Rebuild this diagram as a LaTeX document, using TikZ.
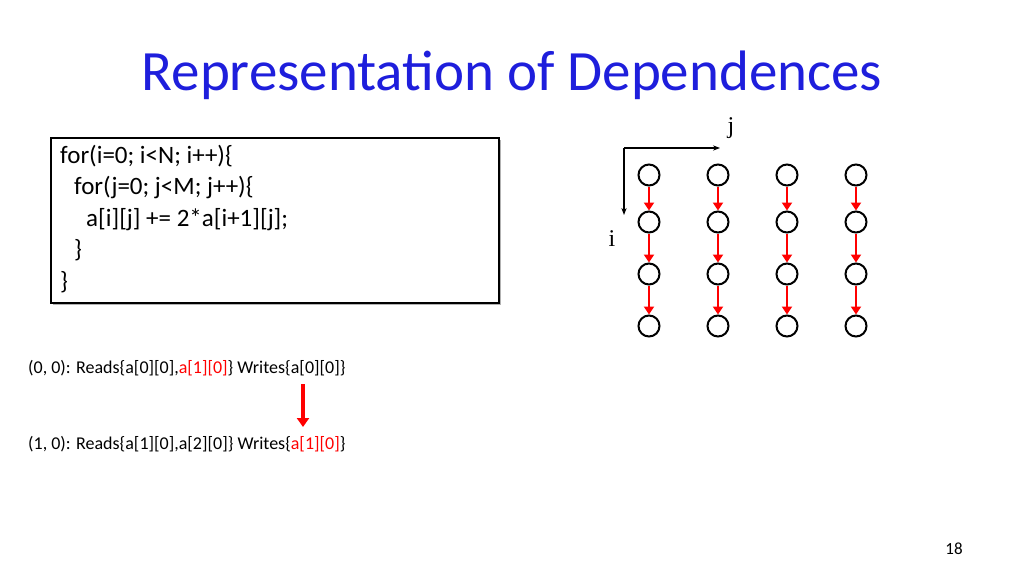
\documentclass[tikz,border=0pt]{standalone}
\usetikzlibrary{arrows.meta}
\usepackage{fontspec}
\setmainfont{Carlito}
\newfontfamily\serifi{Liberation Serif}
\definecolor{ttl}{RGB}{30,30,220}
\begin{document}
\begin{tikzpicture}[x=1pt,y=-1pt,
  cell/.style={circle,draw,line width=2pt,minimum size=21pt,inner sep=0},
  dep/.style={red,line width=2.8pt,-{Triangle[width=10pt,length=8pt]}},
  txt/.style={anchor=west,inner sep=0,font=\fontsize{18}{21}\selectfont}]
\useasboundingbox (0,0) rectangle (1024,576);
\node (title) at (512,75) {\color{ttl}\fontsize{57}{66}\selectfont Representation of Dependences};
\fill[gray!60] (53,140) rectangle (501,305);
\node (box) [draw,line width=2.4pt,fill=white,minimum width=448pt,minimum height=165pt,anchor=north west,inner sep=0] at (50,137) {};
\node (code) [anchor=north west,align=left,font=\fontsize{25}{31.5}\selectfont,inner sep=0] at (60,145)
{for(i=0; i<N; i++)\{\\
\hspace*{14pt}for(j=0; j<M; j++)\{\\
\hspace*{26pt}a[i][j] += 2*a[i+1][j];\\
\hspace*{14pt}\}\\
\}};
\coordinate (o) at (624,148);
\coordinate (je) at (720,148);
\coordinate (ie) at (624,215);
\draw[line width=1.4pt,-{Stealth[length=7pt]}] (o) -- (je);
\draw[line width=1.4pt,-{Stealth[length=7pt]}] (o) -- (ie);
\node (jl) at (731,128) {\serifi\fontsize{24}{26}\selectfont j};
\node (il) at (612,239) {\serifi\fontsize{24}{26}\selectfont i};
\foreach \c/\x in {1/649,2/718,3/787,4/856}{
  \foreach \r/\y in {1/175,2/222,3/274,4/326}{
    \node[cell] (n\c\r) at (\x,\y) {};
  }
  \draw[dep] (n\c1) -- (n\c2);
  \draw[dep] (n\c2) -- (n\c3);
  \draw[dep] (n\c3) -- (n\c4);
}
\node (l1) [txt] at (28,368) {(0, 0): Reads\{a[0][0],\textcolor{red}{a[1][0]}\} Writes\{a[0][0]\}};
\node (l2) [txt] at (28,444) {(1, 0): Reads\{a[1][0],a[2][0]\} Writes\{\textcolor{red}{a[1][0]}\}};
\coordinate (a1) at (303,384);
\coordinate (a2) at (303,427);
\draw[dep,line width=3.4pt,-{Triangle[width=12pt,length=9pt]}] (a1) -- (a2);
\node (pg) at (954,549) {\fontsize{17}{20}\selectfont 18};
\end{tikzpicture}
\end{document}
